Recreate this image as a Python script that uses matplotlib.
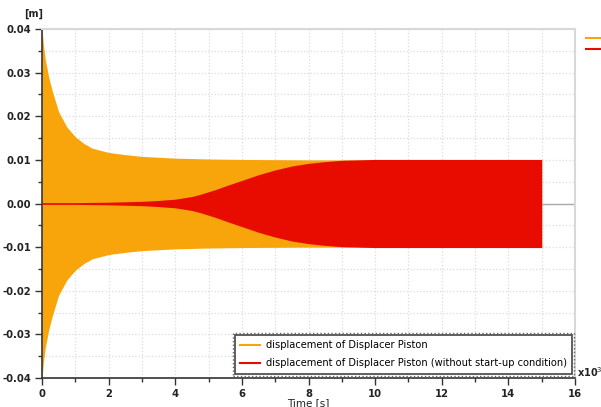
import matplotlib
matplotlib.use("Agg")
from matplotlib import pyplot as plt
from matplotlib.lines import Line2D
from matplotlib.patches import Rectangle
from matplotlib.ticker import MultipleLocator

plt.rcParams["font.family"] = "DejaVu Sans"

# envelope (peak amplitude) of displacement
t_orange = [0, 0.05, 0.1, 0.2, 0.3, 0.4, 0.5, 0.75, 1.0, 1.25, 1.5, 2.0, 2.5, 3.0, 4.0, 5.0, 6.0, 8.0, 10.0, 15.0]
amp_orange = [0.040, 0.036, 0.033, 0.029, 0.026, 0.0235, 0.021, 0.0175, 0.0153, 0.0138, 0.0127, 0.0117, 0.0112, 0.0108,
              0.0104, 0.0102, 0.0101, 0.0100, 0.0100, 0.0100]

t_red = [0, 1.0, 2.0, 2.5, 3.0, 3.5, 4.0, 4.25, 4.5, 4.75, 5.0, 5.25, 5.5, 6.0, 6.5, 7.0, 7.5, 8.0, 8.5, 9.0, 10.0,
         11.0, 15.0]
amp_red = [0.0002, 0.0002, 0.0003, 0.0004, 0.0005, 0.0007, 0.0010, 0.0013, 0.0016, 0.0021, 0.0027, 0.0033, 0.0040,
           0.0053, 0.0066, 0.0077, 0.0086, 0.0092, 0.0096, 0.0099, 0.0101, 0.0101, 0.0101]

labels = ["displacement of Displacer Piston",
          "displacement of Displacer Piston (without start-up condition)"]
c_orange = "#F8A50C"
c_red = "#E80C00"

fig = plt.figure(figsize=(6.01, 4.07), dpi=100)
ax = fig.add_axes([42 / 601, 1 - 378 / 407, 533 / 601, 349 / 407])

ax.fill_between(t_orange, [-a for a in amp_orange], amp_orange, color=c_orange, lw=0, zorder=2)
ax.fill_between(t_red, [-a for a in amp_red], amp_red, color=c_red, lw=0, zorder=3)
ax.axhline(0, color="#aaaaaa", lw=1, zorder=1)

ax.set_xlim(0, 16)
ax.set_ylim(-0.04, 0.04)
ax.xaxis.set_major_locator(MultipleLocator(2))
ax.xaxis.set_minor_locator(MultipleLocator(1))
ax.yaxis.set_major_locator(MultipleLocator(0.01))
ax.yaxis.set_minor_locator(MultipleLocator(0.005))
ax.yaxis.set_major_formatter(lambda v, p: f"{v:.2f}")
ax.grid(which="both", color="#dcdcdc", ls=":", lw=0.9, zorder=0)
ax.set_axisbelow(True)

for s in ["top", "right"]:
    ax.spines[s].set_color("#d8d8d8")
    ax.spines[s].set_linewidth(1.5)
for s in ["left", "bottom"]:
    ax.spines[s].set_color("#333333")
    ax.spines[s].set_linewidth(1.2)

ax.tick_params(which="major", length=5, width=1, color="#333333", labelsize=7.2, pad=3, labelcolor="#222222")
ax.tick_params(which="minor", length=3, width=1, color="#333333")
ax.tick_params(top=False, right=False, which="both")
for lb in ax.get_xticklabels() + ax.get_yticklabels():
    lb.set_fontweight("bold")

ax.set_xlabel("Time [s]", fontsize=7.5, color="#222222", labelpad=-1)
fig.text(34 / 601, 1 - 14 / 407, "[m]", fontsize=7, fontweight="bold", ha="center", va="center", color="#222222")
fig.text(577 / 601, 1 - 372 / 407, "x10$^{3}$", fontsize=7, fontweight="bold", ha="left", va="center", color="#222222")

handles = [Line2D([], [], color=c_orange, lw=1.5), Line2D([], [], color=c_red, lw=1.5)]
leg = ax.legend(handles, labels, loc="lower right", bbox_to_anchor=(0.995, 0.012), fontsize=7.1,
                fancybox=False, framealpha=1, edgecolor="#444444", handlelength=2.0, handletextpad=0.6,
                borderpad=0.55, labelspacing=0.8, borderaxespad=0)
leg.get_frame().set_linewidth(1.2)
leg.set_zorder(5)

# clipped legend markers at the right edge
fig.add_artist(Line2D([586 / 601, 1], [1 - 38 / 407] * 2, color=c_orange, lw=1.5))
fig.add_artist(Line2D([586 / 601, 1], [1 - 49 / 407] * 2, color=c_red, lw=1.5))

fig.canvas.draw()
bb = leg.get_window_extent()
fig.add_artist(Rectangle((bb.x0 - 2, bb.y0 - 2), bb.width + 4, bb.height + 4, transform=None,
                         fill=False, ls=":", lw=1, edgecolor="#666666", zorder=6))

fig.savefig("out.png", dpi=100)
